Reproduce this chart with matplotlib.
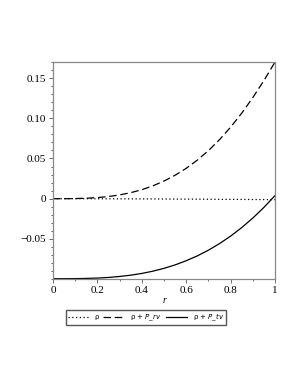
import matplotlib
matplotlib.use("Agg")
import matplotlib.pyplot as plt
from matplotlib.ticker import MultipleLocator

r = [0.0, 0.05, 0.1, 0.15, 0.2, 0.25, 0.3, 0.35, 0.4, 0.45, 0.5,
     0.55, 0.6, 0.65, 0.7, 0.75, 0.8, 0.85, 0.9, 0.95, 1.0]
rho = [0.0, 0.0, 0.0, 0.0, -0.0001, -0.0001, -0.0002, -0.0002, -0.0003, -0.0003, -0.0004,
       -0.0005, -0.0005, -0.0006, -0.0007, -0.0008, -0.0008, -0.0009, -0.001, -0.0011, -0.0012]
rho_Prv = [0.0, 0.0, 0.0002, 0.0006, 0.0014, 0.0027, 0.0047, 0.0075, 0.0112, 0.016, 0.0220,
           0.0292, 0.0378, 0.0480, 0.0598, 0.0735, 0.0890, 0.1064, 0.1258, 0.1470, 0.170]
rho_Ptv = [-0.0995, -0.0995, -0.0994, -0.0991, -0.0987, -0.0979, -0.0967, -0.0951, -0.0929, -0.0901, -0.0866,
           -0.0823, -0.0771, -0.0711, -0.0640, -0.0558, -0.0465, -0.0359, -0.0240, -0.0108, 0.0040]

fig = plt.figure(figsize=(2.98, 3.85), dpi=100)
ax = fig.add_axes([0.178, 0.275, 0.745, 0.564])
ax.plot(r, rho, color="black", lw=0.9, linestyle=(0, (1, 2)), label="ρ")
ax.plot(r, rho_Prv, color="black", lw=0.9, linestyle=(0, (6, 3)), label=r"ρ + $P\_rv$")
ax.plot(r, rho_Ptv, color="black", lw=0.9, linestyle="-", label=r"ρ + $P\_tv$")

ax.set_xlim(0, 1)
ax.set_ylim(-0.1, 0.17)
ax.set_xticks([0, 0.2, 0.4, 0.6, 0.8, 1.0])
ax.set_xticklabels(["0", "0.2", "0.4", "0.6", "0.8", "1"])
ax.set_yticks([-0.05, 0, 0.05, 0.10, 0.15])
ax.set_yticklabels(["\u22120.05", "0", "0.05", "0.10", "0.15"])
ax.xaxis.set_minor_locator(MultipleLocator(0.1))
ax.yaxis.set_minor_locator(MultipleLocator(0.01))
for lab in ax.get_xticklabels() + ax.get_yticklabels():
    lab.set_family("Liberation Serif")
    lab.set_fontsize(8)
ax.tick_params(which="major", length=3, width=0.6, color="#555555", pad=2)
ax.tick_params(which="minor", length=1.5, width=0.6, color="#555555")
for s in ax.spines.values():
    s.set_color("#888888")
    s.set_linewidth(0.9)
ax.set_xlabel("r", fontstyle="italic", fontsize=7, family="Liberation Serif", labelpad=1)

fig.legend(loc="center", bbox_to_anchor=(0.49, 0.176), ncol=3, fontsize=5,
           frameon=True, fancybox=False, edgecolor="#555555", handlelength=3.0,
           handletextpad=0.9, columnspacing=0.6, borderpad=0.25, borderaxespad=0,
           framealpha=1)
fig.savefig("out.png", dpi=100)
